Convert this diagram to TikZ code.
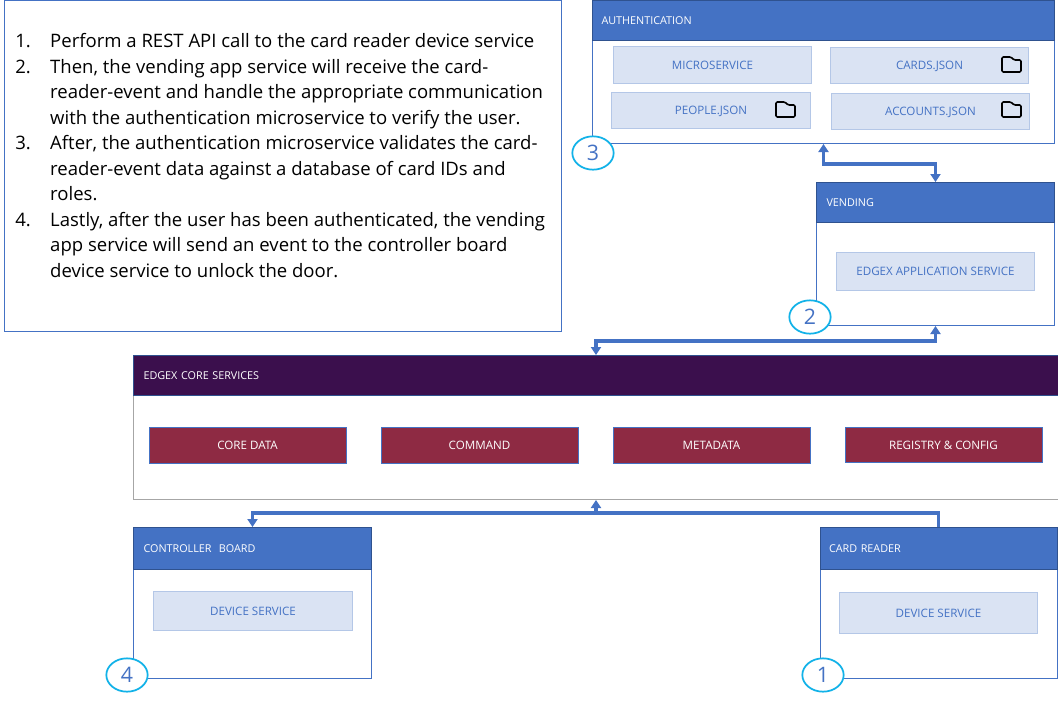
\documentclass[tikz,border=0pt]{standalone}
\usepackage{fontspec}
\setmainfont{Open Sans}
\usetikzlibrary{arrows.meta,calc,shapes.geometric}
\definecolor{hdrblue}{HTML}{4472C4}
\definecolor{hdredge}{HTML}{2F528F}
\definecolor{innerfill}{HTML}{DAE3F3}
\definecolor{inneredge}{HTML}{B4C7E7}
\definecolor{innertext}{HTML}{4472C4}
\definecolor{coreedge}{HTML}{A6A6A6}
\definecolor{corehead}{HTML}{3B0F4D}
\definecolor{redbox}{HTML}{8E2A43}
\definecolor{ringblue}{HTML}{12B2E8}
\tikzset{
  x=0.75pt,y=-0.75pt,
  wh/.style 2 args={minimum width=#1*0.75pt,minimum height=#2*0.75pt},
  frame/.style={draw=hdrblue,line width=0.75pt,anchor=north west,inner sep=0pt,fill=white},
  corefr/.style={frame,draw=coreedge},
  head/.style={draw=hdredge,fill=hdrblue,line width=0.75pt,anchor=north west,inner sep=0pt,text=white,
    font=\fontsize{8.1}{10}\selectfont,align=left,text height=6.75pt,text depth=0.75pt},
  corehd/.style={head,fill=corehead,draw=hdredge},
  item/.style={draw=inneredge,fill=innerfill,line width=0.75pt,anchor=north west,inner sep=0pt,text=innertext,
    font=\fontsize{8.7}{10}\selectfont,text height=6.75pt,text depth=0.75pt},
  core/.style={draw=hdrblue,fill=redbox,line width=0.75pt,anchor=north west,inner sep=0pt,text=white,
    font=\fontsize{8.7}{10}\selectfont,text height=6.75pt,text depth=0.75pt},
  ring/.style={draw=ringblue,fill=white,line width=1.3pt,ellipse,minimum width=31pt,minimum height=25pt,inner sep=0pt,
    text=innertext,font=\fontsize{16}{18}\selectfont},
  conn/.style={draw=hdrblue,line width=2.6pt,-{Triangle[length=6pt,width=7.5pt]}},
  connb/.style={draw=hdrblue,line width=2.6pt,{Triangle[length=6pt,width=7.5pt]}-{Triangle[length=6pt,width=7.5pt]}},
  folder/.style={draw=black,line width=1.2pt,rounded corners=1pt,line join=round}
}
\newcommand{\foldericon}[2]{%
  \draw[folder] (#1,#2+15) -- (#1,#2) -- (#1+9,#2) -- (#1+12,#2+3) -- (#1+19,#2+3) -- (#1+19,#2+15) -- cycle;}
\begin{document}
\begin{tikzpicture}
\useasboundingbox (0,0) rectangle (1058,704);
% text panel
\node[frame,wh={557}{331}] (panel) at (4,0) {};
\node[anchor=north west,inner sep=0pt,font=\fontsize{13.9}{19.13}\selectfont,align=left] (steps) at (15,29.5) {%
\begin{tabular}{@{}p{26.2pt}@{}l@{}}
1. & Perform a REST API call to the card reader device service\\
2. & Then, the vending app service will receive the card-\\
 & reader-event and handle the appropriate communication\\
 & with the authentication microservice to verify the user.\\
3. & After, the authentication microservice validates the card-\\
 & reader-event data against a database of card IDs and\\
 & roles.\\
4. & Lastly, after the user has been authenticated, the vending\\
 & app service will send an event to the controller board\\
 & device service to unlock the door.
\end{tabular}};
% authentication
\node[frame,wh={462}{143}] (auth) at (592,0) {};
\node[head,wh={462}{40},text width=444*0.75pt] (authh) at (592,0) {AUTHENTICATION};
\node[item,wh={198}{37}] (ms) at (613,46) {MICROSERVICE};
\node[item,wh={198}{36}] (cards) at (830,47) {CARDS.JSON};
\node[item,wh={199}{36}] (people) at (611,92) {PEOPLE.JSON};
\node[item,wh={198}{36}] (accounts) at (831,93) {ACCOUNTS.JSON};
\foldericon{1002}{57}
\foldericon{776}{102}
\foldericon{1002}{102}
% vending
\node[frame,wh={238}{143}] (vend) at (816,182) {};
\node[head,wh={238}{40},text width=218*0.75pt] (vendh) at (816,182) {VENDING};
\node[item,wh={198}{38}] (app) at (836,252) {EDGEX APPLICATION SERVICE};
% core
\node[corefr,wh={925}{144}] (corebox) at (133,355) {};
\node[corehd,wh={925}{40},text width=905*0.75pt] (coreh) at (133,355) {EDGEX CORE SERVICES};
\node[core,wh={197}{36}] (cdata) at (148.5,427) {CORE DATA};
\node[core,wh={197}{36}] (cmd) at (380.5,427) {COMMAND};
\node[core,wh={197}{36}] (meta) at (612.5,427) {METADATA};
\node[core,wh={197}{35}] (reg) at (844.5,427) {REGISTRY \& CONFIG};
% controller
\node[frame,wh={238}{151}] (ctrl) at (133,527) {};
\node[head,wh={238}{42},text width=218*0.75pt] (ctrlh) at (133,527) {CONTROLLER\ \ BOARD};
\node[item,wh={199}{39}] (ds1) at (153,591) {DEVICE SERVICE};
% card reader
\node[frame,wh={237}{151}] (reader) at (819.5,527) {};
\node[head,wh={237}{42},text width=219*0.75pt] (readerh) at (819.5,527) {CARD READER};
\node[item,wh={198}{41}] (ds2) at (839,592) {DEVICE SERVICE};
% connectors
\draw[connb] (auth.south) -- ++(0,20) -| (vendh.north);
\draw[connb] (vend.south) -- ++(0,15) -| (coreh.north);
\coordinate (bus) at ($(corebox.south)+(0,14)$);
\draw[conn] (reader.north) -- ++(0,-14) -| (ctrl.north);
\draw[conn] (bus) -- (corebox.south);
% step markers
\node[ring] (n3) at (593,153) {3};
\node[ring] (n2) at (810,317) {2};
\node[ring] (n4) at (127,675) {4};
\node[ring] (n1) at (823,675) {1};
\end{tikzpicture}
\end{document}
